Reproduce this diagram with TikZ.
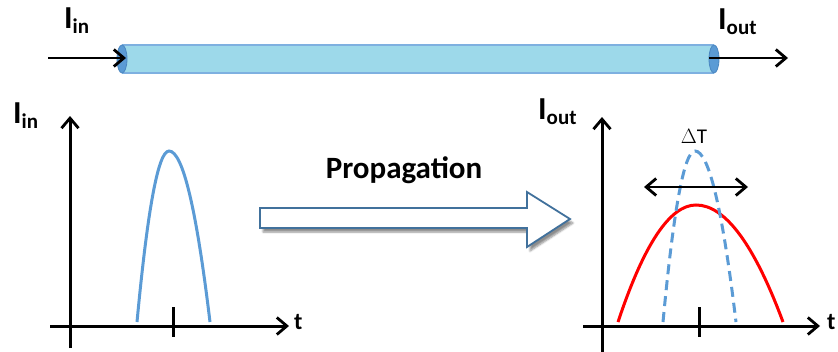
\documentclass[tikz,border=0pt]{standalone}
\usepackage{fontspec}
\setmainfont{Carlito}
\usetikzlibrary{arrows.meta,shadows.blur}
\definecolor{pulseblue}{HTML}{5B9BD5}
\definecolor{fibrefill}{HTML}{9DD9EA}
\definecolor{fibreedge}{HTML}{7EB0E0}
\definecolor{capedge}{HTML}{4A86C0}
\definecolor{blockedge}{HTML}{41719C}
\newcommand\curlab[1]{{\fontsize{32}{32}\selectfont\bfseries I}\raisebox{-5pt}{\fontsize{21}{21}\selectfont\bfseries #1}}
\tikzset{
  barb/.tip={Straight Barb[length=10pt,width=17pt,line width=2.8pt]},
  axis/.style={line width=3pt, -barb},
  flow/.style={line width=2.8pt, -barb},
  tickmark/.style={line width=3pt},
  lab/.style={inner sep=0pt, anchor=base west},
  tlab/.style={inner sep=0pt, anchor=base west, font=\fontsize{24}{24}\selectfont\bfseries},
  pulse/.style={line width=3pt, pulseblue},
}
\begin{document}
\begin{tikzpicture}[x=1pt,y=-1pt]
\useasboundingbox (0,0) rectangle (838,351);

% fibre
\fill[fibrefill] (122,45) rectangle (714,73);
\draw[fibreedge, line width=1.2pt] (122,45) -- (714,45) (122,73) -- (714,73);
\draw[capedge, fill=pulseblue, line width=0.8pt] (122,59) ellipse [x radius=5, y radius=14];
\draw[capedge, fill=pulseblue, line width=0.8pt] (714,59) ellipse [x radius=5, y radius=14];

\coordinate (inStart) at (48,58);
\coordinate (inEnd) at (126,58);
\coordinate (outStart) at (709,58);
\coordinate (outEnd) at (788,58);
\draw[flow] (inStart) -- (inEnd);
\draw[flow] (outStart) -- (outEnd);
\node[lab] (topIn) at (64,28) {\curlab{in}};
\node[lab] (topOut) at (718,29) {\curlab{out}};

% input pulse plot
\coordinate (ayL0) at (70,348);
\coordinate (ayL1) at (70,116);
\coordinate (axL0) at (50,326);
\coordinate (axL1) at (289,326);
\draw[axis] (ayL0) -- (ayL1);
\draw[axis] (axL0) -- (axL1);
\draw[tickmark] (173,307) -- (173,337);
\draw[pulse] (137,322) .. controls (147.7,208) and (158.3,151) .. (169,151)
                      .. controls (182.7,151) and (196.3,208) .. (210,322);
\node[lab] (plotIn) at (13,123) {\curlab{in}};
\node[tlab] (tL) at (294,329) {t};

% propagation arrow
\node[inner sep=0pt, anchor=base, font=\fontsize{31}{31}\selectfont\bfseries] (prop) at (404,178) {Propagation};
\draw[blockedge, line width=1.8pt, fill=white,
      blur shadow={shadow xshift=3pt, shadow yshift=-4pt, shadow blur steps=6, shadow opacity=45}]
  (260,208) -- (527,208) -- (527,192) -- (570,219) -- (527,247) -- (527,228) -- (260,228) -- cycle;

% output pulse plot
\coordinate (ayR0) at (602,352);
\coordinate (ayR1) at (602,117);
\coordinate (axR0) at (583,326);
\coordinate (axR1) at (820,326);
\draw[axis] (ayR0) -- (ayR1);
\draw[axis] (axR0) -- (axR1);
\draw[tickmark] (699,307) -- (699,337);
\draw[red, line width=3pt] (618,322) .. controls (644,244) and (670,205) .. (696,205)
                      .. controls (725,205) and (754,244) .. (783,322);
\draw[pulse, dash pattern=on 10pt off 6pt] (663,322) .. controls (673.7,208) and (684.3,151) .. (695,151)
                      .. controls (708.7,151) and (722.3,208) .. (736,322);
\coordinate (wL) at (644,187);
\coordinate (wR) at (748,187);
\draw[line width=2.8pt, barb-barb] (wL) -- (wR);
\node[inner sep=0pt, anchor=base, font=\fontsize{21}{21}\selectfont] (dT) at (694,143) {$\Delta$T};
\node[lab] (plotOut) at (538,119) {\curlab{out}};
\node[tlab] (tR) at (827,329) {t};
\end{tikzpicture}
\end{document}
